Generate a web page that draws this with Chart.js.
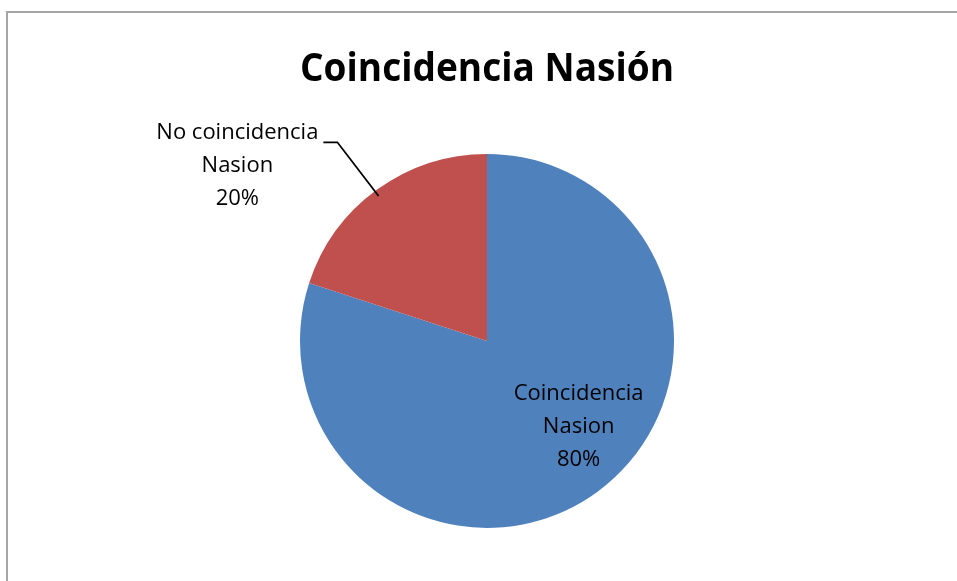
<!DOCTYPE html>
<html>
<head>
<meta charset="utf-8">
<script src="https://cdn.jsdelivr.net/npm/chart.js@4"></script>
<style>
  html, body { margin: 0; padding: 0; background: #fff; }
  #wrap { width: 957px; height: 581px; position: relative; }
</style>
</head>
<body>
<div id="wrap"><canvas id="c" width="957" height="581"></canvas></div>
<script>
const chartTitle = 'Coincidencia Nasión';
const categories = ['Coincidencia Nasion', 'No coincidencia Nasion'];
const labelLines = [['Coincidencia', 'Nasion'], ['No coincidencia', 'Nasion']];
const values = [80, 20];
const colors = ['#4F81BD', '#C0504D'];

const FONT = '"Open Sans", "Noto Sans", sans-serif';

// frame of the chart area (only left and top edges show in the picture)
const framePlugin = {
  id: 'frame',
  beforeDraw(chart){
    const c = chart.ctx;
    c.save();
    c.fillStyle = '#fff';
    c.fillRect(0, 0, chart.width, chart.height);
    c.strokeStyle = '#a6a6a6';
    c.lineWidth = 2;
    c.beginPath();
    c.moveTo(7, chart.height + 5);
    c.lineTo(7, 12);
    c.lineTo(chart.width + 5, 12);
    c.stroke();
    c.restore();
  }
};

// data labels: blue one inside, red one outside with a leader line
const labelPlugin = {
  id: 'sliceLabels',
  afterDatasetsDraw(chart){
    const c = chart.ctx;
    const meta = chart.getDatasetMeta(0);
    const total = values.reduce((a,b)=>a+b, 0);
    c.save();
    c.font = '22px ' + FONT;
    c.textAlign = 'center';
    c.textBaseline = 'middle';
    c.fillStyle = '#000';
    meta.data.forEach((arc, i) => {
      const p = arc.getProps(['x','y','outerRadius'], true);
      const r = p.outerRadius;
      const pct = Math.round(values[i] / total * 100) + '%';
      const lines = labelLines[i].concat([pct]);
      let lx, ly;
      if (i === 0){
        lx = p.x + 0.49 * r; ly = p.y + 0.46 * r;
      } else {
        lx = p.x - 1.335 * r; ly = p.y - 0.935 * r;
        // leader line
        c.strokeStyle = '#000';
        c.lineWidth = 1.8;
        c.beginPath();
        c.moveTo(p.x - 0.875 * r, p.y - 1.062 * r);
        c.lineTo(p.x - 0.80 * r, p.y - 1.062 * r);
        c.lineTo(p.x - 0.58 * r, p.y - 0.775 * r);
        c.stroke();
      }
      const lh = 33;
      lines.forEach((t, k) => c.fillText(t, lx, ly + (k - 1) * lh));
    });
    c.restore();
  }
};

new Chart(document.getElementById('c'), {
  type: 'pie',
  data: {
    labels: categories,
    datasets: [{
      data: values,
      backgroundColor: colors,
      borderWidth: 0
    }]
  },
  options: {
    responsive: false,
    animation: false,
    layout: { padding: { left: 300, right: 283, top: 0, bottom: 53 } },
    plugins: {
      legend: { display: false },
      tooltip: { enabled: false },
      title: {
        display: true,
        text: chartTitle,
        color: '#000',
        font: { family: FONT, size: 39, weight: 'bold', lineHeight: 1.2 },
        padding: { top: 46, bottom: 61 }
      }
    }
  },
  plugins: [framePlugin, labelPlugin]
});
</script>
</body>
</html>
